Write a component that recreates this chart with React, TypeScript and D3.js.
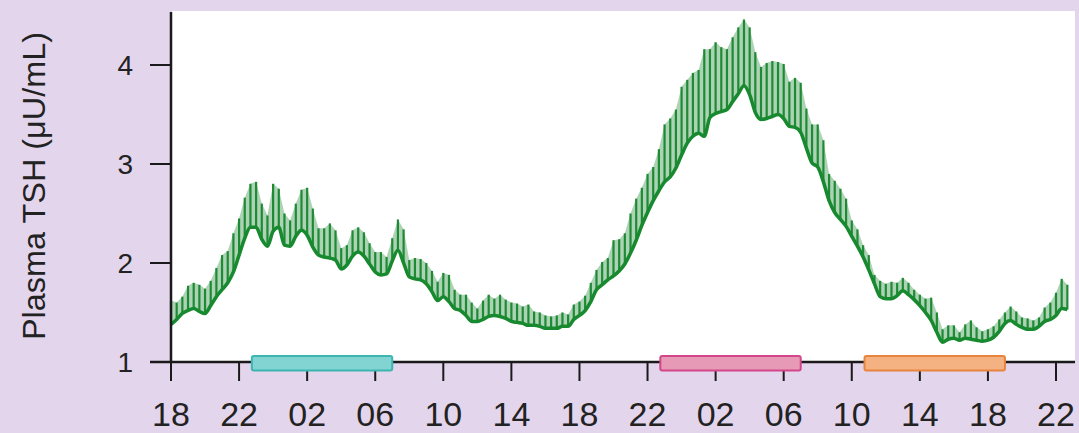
import React from 'react';
import * as d3 from 'd3';

// ---- data ----
const xTickHours = [0, 4, 8, 12, 16, 20, 24, 28, 32, 36, 40, 44, 48, 52];
const xTickLabels = ['18', '22', '02', '06', '10', '14', '18', '22', '02', '06', '10', '14', '18', '22'];
const yTicks = [1, 2, 3, 4];
const sampleStepHours = 1 / 3; // one sample every 20 min, starting 18:00

const meanTSH = [
  1.38, 1.43, 1.49, 1.52, 1.54, 1.51, 1.49, 1.57, 1.66, 1.73,
  1.80, 1.91, 2.08, 2.25, 2.36, 2.36, 2.24, 2.17, 2.32, 2.36,
  2.18, 2.17, 2.27, 2.33, 2.28, 2.16, 2.08, 2.06, 2.05, 2.03,
  1.94, 1.98, 2.07, 2.11, 2.07, 1.99, 1.91, 1.88, 1.89, 2.02,
  2.13, 2.00, 1.86, 1.84, 1.83, 1.79, 1.71, 1.62, 1.66, 1.61,
  1.54, 1.52, 1.47, 1.41, 1.41, 1.43, 1.46, 1.47, 1.46, 1.44,
  1.41, 1.40, 1.39, 1.37, 1.37, 1.36, 1.34, 1.34, 1.34, 1.36,
  1.36, 1.43, 1.47, 1.52, 1.61, 1.73, 1.78, 1.83, 1.87, 1.92,
  1.99, 2.10, 2.23, 2.38, 2.51, 2.63, 2.73, 2.82, 2.87, 2.96,
  3.09, 3.21, 3.28, 3.31, 3.28, 3.47, 3.51, 3.53, 3.55, 3.63,
  3.71, 3.79, 3.70, 3.52, 3.45, 3.46, 3.48, 3.50, 3.46, 3.38,
  3.37, 3.32, 3.16, 3.01, 2.97, 2.82, 2.63, 2.51, 2.44, 2.37,
  2.27, 2.17, 2.06, 1.93, 1.79, 1.66, 1.64, 1.64, 1.67, 1.72,
  1.68, 1.63, 1.57, 1.50, 1.42, 1.30, 1.20, 1.23, 1.24, 1.22,
  1.24, 1.23, 1.22, 1.21, 1.22, 1.25, 1.31, 1.39, 1.42, 1.38,
  1.35, 1.33, 1.33, 1.36, 1.41, 1.43, 1.47, 1.54, 1.53,
];

const upperTSH = [
  1.62, 1.60, 1.66, 1.77, 1.80, 1.78, 1.74, 1.82, 1.95, 2.08,
  2.12, 2.30, 2.45, 2.66, 2.80, 2.82, 2.60, 2.48, 2.80, 2.75,
  2.50, 2.43, 2.60, 2.74, 2.76, 2.55, 2.35, 2.35, 2.40, 2.33,
  2.15, 2.18, 2.33, 2.36, 2.31, 2.20, 2.11, 2.11, 2.06, 2.25,
  2.44, 2.34, 2.03, 2.05, 2.04, 2.00, 1.92, 1.81, 1.90, 1.88,
  1.73, 1.68, 1.68, 1.60, 1.54, 1.62, 1.68, 1.64, 1.68, 1.63,
  1.60, 1.59, 1.56, 1.58, 1.51, 1.50, 1.47, 1.46, 1.47, 1.50,
  1.48, 1.58, 1.61, 1.67, 1.80, 1.93, 2.01, 2.05, 2.23, 2.24,
  2.30, 2.50, 2.65, 2.76, 2.90, 2.97, 3.15, 3.40, 3.46, 3.55,
  3.78, 3.85, 3.92, 3.95, 4.16, 4.16, 4.23, 4.18, 4.16, 4.28,
  4.38, 4.46, 4.38, 4.13, 3.98, 4.02, 4.04, 4.03, 4.01, 3.83,
  3.87, 3.82, 3.56, 3.40, 3.40, 3.24, 2.90, 2.83, 2.75, 2.65,
  2.43, 2.34, 2.18, 2.08, 1.88, 1.82, 1.79, 1.81, 1.80, 1.85,
  1.80, 1.73, 1.68, 1.64, 1.65, 1.50, 1.33, 1.37, 1.37, 1.30,
  1.38, 1.42, 1.35, 1.31, 1.33, 1.36, 1.43, 1.50, 1.56, 1.51,
  1.45, 1.44, 1.42, 1.45, 1.55, 1.60, 1.70, 1.84, 1.78,
];

// sleep / activity bars (hours from 18:00 day 1)
const barStartHours = [4.75, 28.75, 40.75];
const barEndHours = [13.0, 37.0, 49.0];
const barFills = ['#82d4d2', '#e69ab5', '#f4b283'];
const barStrokes = ['#3db5b0', '#d4468a', '#e8843e'];

const yTitle = 'Plasma TSH (\u03bcU/mL)';

export default function App() {
  const W = 1079, H = 433;
  const x = d3.scaleLinear().domain([0, 52]).range([171, 1056]);
  const y = d3.scaleLinear().domain([1, 4]).range([362, 65]);

  const pts = meanTSH.map((m, i) => ({ t: i * sampleStepHours, m, u: upperTSH[i] }));

  const area = d3.area<any>()
    .x(d => x(d.t))
    .y0(d => y(d.m))
    .y1(d => y(d.u));
  const line = d3.line<any>()
    .x(d => x(d.t))
    .y(d => y(d.m))
    .curve(d3.curveMonotoneX);

  const font = '"Liberation Sans", Arial, Helvetica, sans-serif';

  return (
    <svg width={W} height={H} style={{ position: 'absolute', left: 0, top: 0, display: 'block' }}>
      <rect x={0} y={0} width={W} height={H} fill="#e3d5ec" />
      <rect x={172} y={11} width={1075 - 172} height={362 - 11} fill="#ffffff" />

      {/* SEM envelope */}
      <path d={area(pts) || ''} fill="#5aa868" fillOpacity={0.5} stroke="none" />
      {pts.map((d, i) => (
        <line key={i} x1={x(d.t)} x2={x(d.t)} y1={y(d.m)} y2={y(d.u)} stroke="#1f8a36" strokeWidth={2.2} />
      ))}
      <path d={line(pts) || ''} fill="none" stroke="#17892e" strokeWidth={3.5} strokeLinejoin="round" />

      {/* axes */}
      <line x1={171} x2={171} y1={12} y2={363} stroke="#1a1a1a" strokeWidth={2.5} />
      <line x1={150} x2={1075} y1={362} y2={362} stroke="#1a1a1a" strokeWidth={2.5} />
      {yTicks.map(v => (
        <g key={v}>
          <line x1={150} x2={171} y1={y(v)} y2={y(v)} stroke="#1a1a1a" strokeWidth={2} />
          <text x={133} y={y(v)} dy="0.36em" textAnchor="end" fontFamily={font} fontSize={28} fill="#222">{v}</text>
        </g>
      ))}
      {xTickHours.map((h, i) => (
        <g key={i}>
          <line x1={x(h)} x2={x(h)} y1={362} y2={381} stroke="#1a1a1a" strokeWidth={2} />
          <text x={x(h)} y={426} textAnchor="middle" fontFamily={font} fontSize={34} fill="#222">{xTickLabels[i]}</text>
        </g>
      ))}

      {/* bars */}
      {barStartHours.map((s, i) => (
        <rect key={i} x={x(s)} y={356} width={x(barEndHours[i]) - x(s)} height={14.5} rx={2}
          fill={barFills[i]} stroke={barStrokes[i]} strokeWidth={2} />
      ))}

      <text transform="translate(45,186) rotate(-90)" textAnchor="middle" fontFamily={font} fontSize={32}
        textLength={308} lengthAdjust="spacingAndGlyphs" fill="#222">{yTitle}</text>
    </svg>
  );
}
